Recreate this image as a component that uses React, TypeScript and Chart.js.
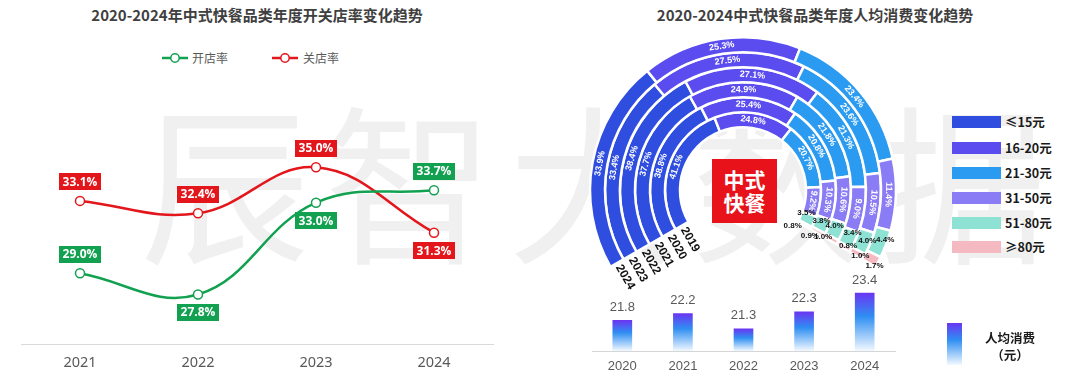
import React, { useEffect, useRef } from 'react';
import { Chart, registerables } from 'chart.js';
Chart.register(...registerables);

// ---------- data ----------
const lineYears = ['2021', '2022', '2023', '2024'];
const openRate = [29.0, 27.8, 33.0, 33.7];
const closeRate = [33.1, 32.4, 35.0, 31.3];

const ringYears = ['2024', '2023', '2022', '2021', '2020', '2019'];
const priceBands = ['≤15元', '16-20元', '21-30元', '31-50元', '51-80元', '≥80元'];
const share2024 = [33.9, 25.3, 23.4, 11.4, 4.4, 1.7];
const share2023 = [33.4, 27.5, 23.6, 10.5, 4.0, 1.0];
const share2022 = [38.4, 27.1, 21.3, 9.0, 3.4, 0.8];
const share2021 = [37.7, 24.9, 21.8, 10.6, 4.0, 1.0];
const share2020 = [38.8, 25.4, 20.8, 10.3, 3.8, 0.9];
const share2019 = [41.1, 24.8, 20.7, 9.2, 3.5, 0.8];

const spendYears = ['2020', '2021', '2022', '2023', '2024'];
const avgSpend = [21.8, 22.2, 21.3, 22.3, 23.4];

// ---------- styles ----------
const GREEN = '#12a150';
const RED = '#e3161c';
const bandColors = ['#2f4ee0', '#5b4cf0', '#2b9bf2', '#8a7cf5', '#8ee2d4', '#f4b9c1'];
const openLabelSide = ['top', 'bottom', 'bottom', 'top'];
const closeLabelSide = ['top', 'top', 'top', 'bottom'];
const nudge5180 = [[6, -2], [4, 0], [4, -4], [-1, -3], [0, -3], [-1, -6]];
const nudge80 = [[3, 7], [3, 3], [4, -1], [-8, -2], [-8, 4], [-12, 1]];
const CJK = '"Noto Sans CJK SC", "Noto Sans", sans-serif';
const ARIAL = '"Liberation Sans", Arial, sans-serif';

function LineChart() {
  const ref = useRef<HTMLCanvasElement>(null);
  useEffect(() => {
    const labelPlugin = {
      id: 'boxLabels',
      afterDatasetsDraw(chart: any) {
        const ctx = chart.ctx;
        chart.data.datasets.forEach((ds: any, di: number) => {
          const meta = chart.getDatasetMeta(di);
          const sides = di === 0 ? openLabelSide : closeLabelSide;
          const color = di === 0 ? GREEN : RED;
          meta.data.forEach((pt: any, i: number) => {
            const text = ds.data[i].toFixed(1) + '%';
            ctx.save();
            ctx.font = 'bold 12px "Open Sans", sans-serif';
            const w = Math.round(ctx.measureText(text).width + 7);
            const h = 17;
            const cy = sides[i] === 'top' ? pt.y - 19 : pt.y + 18;
            ctx.fillStyle = color;
            ctx.fillRect(Math.round(pt.x - w / 2), Math.round(cy - h / 2), w, h);
            ctx.fillStyle = '#fff';
            ctx.textAlign = 'center';
            ctx.textBaseline = 'middle';
            ctx.fillText(text, pt.x, cy + 0.5);
            ctx.restore();
          });
        });
      },
    };
    const mk = (label: string, data: number[], color: string) => ({
      label,
      data,
      borderColor: color,
      backgroundColor: color,
      borderWidth: 2.5,
      tension: 0.4,
      pointRadius: 4.5,
      pointBackgroundColor: '#fff',
      pointBorderColor: color,
      pointBorderWidth: 1.5,
    });
    const chart = new Chart(ref.current!, {
      type: 'line',
      data: { labels: lineYears, datasets: [mk('开店率', openRate, GREEN), mk('关店率', closeRate, RED)] },
      options: {
        animation: false,
        responsive: false,
        layout: { padding: { left: 21, right: 47, top: 132, bottom: 0 } },
        plugins: { legend: { display: false }, tooltip: { enabled: false } },
        scales: {
          x: {
            offset: true,
            grid: { display: false, drawTicks: false },
            border: { display: true, color: '#d9d9d9', width: 1 },
            ticks: { color: '#595959', font: { size: 14.5, family: '"Noto Sans", sans-serif' }, padding: 10 },
            afterFit: (s: any) => { s.height = 41; },
          },
          y: { display: false, min: 25, max: 37 },
        },
      } as any,
      plugins: [labelPlugin],
    });
    return () => chart.destroy();
  }, []);
  return <canvas ref={ref} width={540} height={385} style={{ position: 'absolute', left: 0, top: 0, width: 540, height: 385 }} />;
}

function RingChart() {
  const ref = useRef<HTMLCanvasElement>(null);
  useEffect(() => {
    const ringShares = [share2024, share2023, share2022, share2021, share2020, share2019];
    const ringPlugin = {
      id: 'ringLabels',
      afterDatasetsDraw(chart: any) {
        const ctx = chart.ctx;
        chart.data.datasets.forEach((ds: any, di: number) => {
          const meta = chart.getDatasetMeta(di);
          meta.data.forEach((arc: any, j: number) => {
            const p = arc.getProps(['x', 'y', 'startAngle', 'endAngle', 'innerRadius', 'outerRadius'], true);
            const mid = (p.startAngle + p.endAngle) / 2;
            const r = (p.innerRadius + p.outerRadius) / 2;
            const px = p.x + Math.cos(mid) * r;
            const py = p.y + Math.sin(mid) * r;
            const text = ds.data[j].toFixed(1) + '%';
            ctx.save();
            ctx.textAlign = 'center';
            ctx.textBaseline = 'middle';
            if (j < 4) {
              ctx.translate(px, py);
              ctx.rotate(mid + Math.PI / 2);
              ctx.fillStyle = '#fff';
              ctx.font = `bold 9px ${ARIAL}`;
              ctx.fillText(text, 0, 0);
            } else {
              const n = j === 4 ? nudge5180[di] : nudge80[di];
              ctx.fillStyle = '#111';
              ctx.font = `bold 8px ${ARIAL}`;
              ctx.fillText(text, px + n[0], py + n[1]);
            }
            ctx.restore();
            if (j === 0) {
              const s = p.startAngle;
              ctx.save();
              ctx.translate(p.x + Math.cos(s) * r, p.y + Math.sin(s) * r);
              ctx.rotate(s - Math.PI / 2);
              ctx.fillStyle = '#111';
              ctx.font = `bold 12px ${ARIAL}`;
              ctx.textAlign = 'left';
              ctx.textBaseline = 'middle';
              ctx.fillText(ringYears[di], 3, 0);
              ctx.restore();
            }
          });
        });
      },
    };
    const chart = new Chart(ref.current!, {
      type: 'doughnut',
      data: {
        labels: priceBands,
        datasets: ringYears.map((y, i) => ({
          label: y,
          data: ringShares[i],
          backgroundColor: bandColors,
          borderColor: '#ffffff',
          borderWidth: 2.5,
        })),
      },
      options: {
        animation: false,
        responsive: false,
        rotation: -120,
        circumference: 240,
        radius: 153,
        cutout: '41.2%',
        layout: { padding: { left: 0, right: 0, top: 0, bottom: 30 } },
        plugins: { legend: { display: false }, tooltip: { enabled: false } },
      } as any,
      plugins: [ringPlugin],
    });
    return () => chart.destroy();
  }, []);
  return <canvas ref={ref} width={320} height={290} style={{ position: 'absolute', left: 583, top: 22, width: 320, height: 290 }} />;
}

function BarChart() {
  const ref = useRef<HTMLCanvasElement>(null);
  useEffect(() => {
    const valuePlugin = {
      id: 'barValues',
      afterDatasetsDraw(chart: any) {
        const ctx = chart.ctx;
        const meta = chart.getDatasetMeta(0);
        meta.data.forEach((bar: any, i: number) => {
          ctx.save();
          ctx.fillStyle = '#595959';
          ctx.font = `13px ${ARIAL}`;
          ctx.textAlign = 'center';
          ctx.textBaseline = 'middle';
          ctx.fillText(avgSpend[i].toFixed(1), bar.x, bar.y - 13);
          ctx.restore();
        });
      },
    };
    const chart = new Chart(ref.current!, {
      type: 'bar',
      data: {
        labels: spendYears,
        datasets: [{
          label: '人均消费',
          data: avgSpend,
          barThickness: 19,
          backgroundColor: (c: any) => {
            const ch = c.chart;
            const ys = ch.scales && ch.scales.y;
            const area = ch.chartArea;
            if (!ys || !area || c.type !== 'data') return '#2f8ef2';
            const top = ys.getPixelForValue(c.raw);
            const g = ch.ctx.createLinearGradient(0, top, 0, area.bottom);
            g.addColorStop(0, '#6a36f2');
            g.addColorStop(0.4, '#2f8ef2');
            g.addColorStop(1, '#f3f9ff');
            return g;
          },
        }],
      },
      options: {
        animation: false,
        responsive: false,
        layout: { padding: { left: 32, right: 5, top: 13, bottom: 0 } },
        plugins: { legend: { display: false }, tooltip: { enabled: false } },
        scales: {
          x: {
            grid: { display: false, drawTicks: false },
            border: { display: true, color: '#d6d6d6', width: 1 },
            ticks: { color: '#595959', font: { size: 13, family: ARIAL }, padding: 8 },
            afterFit: (s: any) => { s.height = 34; },
          },
          y: { display: false, min: 20, max: 24 },
        },
      } as any,
      plugins: [valuePlugin],
    });
    return () => chart.destroy();
  }, []);
  return <canvas ref={ref} width={340} height={115} style={{ position: 'absolute', left: 560, top: 270, width: 340, height: 115 }} />;
}

function LegendMark({ x, color }: { x: number; color: string }) {
  return (
    <svg width={28} height={12} style={{ position: 'absolute', left: x, top: 52 }}>
      <line x1={0} y1={6} x2={26} y2={6} stroke={color} strokeWidth={2.5} />
      <circle cx={13} cy={6} r={4.2} fill="#fff" stroke={color} strokeWidth={1.5} />
    </svg>
  );
}

export default function App() {
  const legendRows = [122, 148, 173, 198, 223, 247];
  return (
    <div style={{ position: 'absolute', left: 0, top: 0, width: 1080, height: 385, overflow: 'hidden', background: '#fff', fontFamily: CJK }}>
      <div style={{ position: 'absolute', left: 140, top: 92, fontSize: 170, lineHeight: 1, color: '#f0f0f0', fontFamily: CJK, letterSpacing: 14, whiteSpace: 'nowrap' }}>辰智大数据</div>

      <div style={{ position: 'absolute', left: 0, width: 514, top: 5, lineHeight: '20px', textAlign: 'center', fontSize: 15, fontWeight: 700, color: '#3f3f3f' }}>2020-2024年中式快餐品类年度开关店率变化趋势</div>
      <div style={{ position: 'absolute', left: 560, width: 510, top: 5, lineHeight: '20px', textAlign: 'center', fontSize: 15, fontWeight: 700, color: '#3f3f3f' }}>2020-2024中式快餐品类年度人均消费变化趋势</div>

      <LegendMark x={162} color={GREEN} />
      <div style={{ position: 'absolute', left: 192, top: 49, lineHeight: '18px', fontSize: 12, color: '#595959' }}>开店率</div>
      <LegendMark x={272} color={RED} />
      <div style={{ position: 'absolute', left: 303, top: 49, lineHeight: '18px', fontSize: 12, color: '#595959' }}>关店率</div>

      <LineChart />
      <RingChart />
      <BarChart />

      <div style={{ position: 'absolute', left: 712, top: 159, width: 65, height: 64, background: '#e8121b', color: '#fff', fontWeight: 700, fontSize: 21, lineHeight: '23px', textAlign: 'center', paddingTop: 9, boxSizing: 'border-box' }}>中式<br />快餐</div>

      {priceBands.map((b, i) => (
        <React.Fragment key={b}>
          <div style={{ position: 'absolute', left: 952, top: legendRows[i] - 6, width: 49, height: 12, background: bandColors[i] }} />
          <div style={{ position: 'absolute', left: 1005, top: legendRows[i] - 9, lineHeight: '18px', fontSize: 12.5, fontWeight: 700, color: '#1a1a1a', whiteSpace: 'nowrap' }}>{b}</div>
        </React.Fragment>
      ))}

      <div style={{ position: 'absolute', left: 947, top: 323, width: 15, height: 42, background: 'linear-gradient(to bottom, #6a36f2 0%, #2f8ef2 40%, #f3f9ff 100%)' }} />
      <div style={{ position: 'absolute', left: 970, width: 80, top: 329, lineHeight: '17px', textAlign: 'center', fontSize: 12.5, fontWeight: 700, color: '#1a1a1a' }}>人均消费<br />（元）</div>
    </div>
  );
}
